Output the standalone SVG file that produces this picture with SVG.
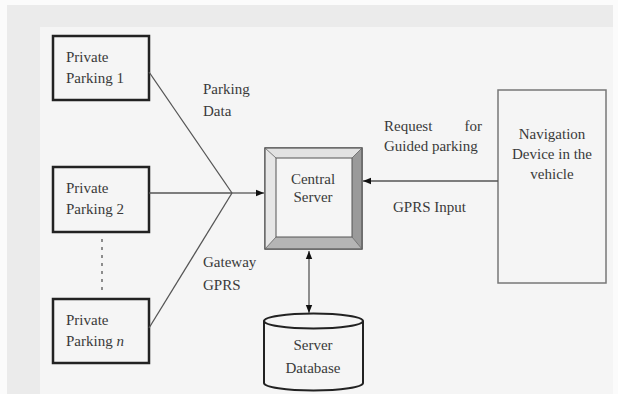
<svg xmlns="http://www.w3.org/2000/svg" width="618" height="394" viewBox="0 0 618 394">
<defs>
<style>
.t{font-family:"Liberation Serif","Times New Roman",serif;font-size:15px;fill:#3a3a3a}
.pp{fill:#f5f5f5;stroke:#222;stroke-width:2.5}
.ln{stroke:#555;stroke-width:1.3;fill:none}
</style>
<marker id="ah" viewBox="0 0 10 10" refX="10" refY="5" markerWidth="8" markerHeight="8" markerUnits="userSpaceOnUse" orient="auto-start-reverse">
<path d="M0,1 L10,5 L0,9 Z" fill="#111"/>
</marker>
</defs>
<rect width="618" height="394" fill="#fbfbfb"/>
<rect x="7" y="5" width="606" height="389" fill="#ebebeb"/>
<rect x="40" y="27" width="573" height="367" fill="#f5f5f5"/>

<g id="pp1">
<rect class="pp" x="53" y="36" width="96" height="64"/>
<text class="t" x="66" y="62">Private</text>
<text class="t" x="66" y="83">Parking 1</text>
</g>
<g id="pp2">
<rect class="pp" x="53" y="167" width="96" height="65"/>
<text class="t" x="66" y="193">Private</text>
<text class="t" x="66" y="214">Parking 2</text>
</g>
<g id="ppn">
<rect class="pp" x="53" y="299" width="96" height="64"/>
<text class="t" x="66" y="325">Private</text>
<text class="t" x="66" y="346">Parking <tspan font-style="italic">n</tspan></text>
</g>

<g id="server">
<rect x="265" y="148" width="97" height="101" fill="#d8d8d8" stroke="#555" stroke-width="1.2"/>
<polygon points="265,148 362,148 352,158 276,158" fill="#e2e2e2"/>
<polygon points="265,148 276,158 276,237 265,249" fill="#e6e6e6"/>
<polygon points="362,148 362,249 352,237 352,158" fill="#9a9a9a"/>
<polygon points="265,249 362,249 352,237 276,237" fill="#b5b5b5"/>
<rect x="265" y="148" width="97" height="101" fill="none" stroke="#555" stroke-width="1.2"/>
<rect x="276" y="158" width="76" height="79" fill="#f5f5f5" stroke="#555" stroke-width="1"/>
<line x1="265" y1="148" x2="276" y2="158" stroke="#666" stroke-width="0.8"/>
<line x1="362" y1="148" x2="352" y2="158" stroke="#666" stroke-width="0.8"/>
<line x1="265" y1="249" x2="276" y2="237" stroke="#666" stroke-width="0.8"/>
<line x1="362" y1="249" x2="352" y2="237" stroke="#666" stroke-width="0.8"/>
<text class="t" x="313" y="184" text-anchor="middle">Central</text>
<text class="t" x="313" y="202" text-anchor="middle">Server</text>
</g>

<g id="db">
<path d="M264,321 L264,383 A49.5,7.5 0 0 0 363,383 L363,321" fill="#f5f5f5" stroke="#222" stroke-width="2"/>
<ellipse cx="313.5" cy="321" rx="49.5" ry="7.5" fill="#f5f5f5" stroke="#222" stroke-width="2"/>
<text class="t" x="313" y="350" text-anchor="middle">Server</text>
<text class="t" x="313" y="373" text-anchor="middle">Database</text>
</g>

<g id="nav">
<rect x="498" y="90" width="108" height="193" fill="#f5f5f5" stroke="#777" stroke-width="1.5"/>
<text class="t" x="552" y="139" text-anchor="middle">Navigation</text>
<text class="t" x="552" y="159" text-anchor="middle">Device in the</text>
<text class="t" x="552" y="179" text-anchor="middle">vehicle</text>
</g>

<g id="connectors">
<line class="ln" x1="149" y1="72" x2="232" y2="193"/>
<line class="ln" x1="149" y1="193" x2="232" y2="193"/>
<line class="ln" x1="149" y1="328" x2="232" y2="193"/>
<line class="ln" x1="232" y1="193" x2="264" y2="193" marker-end="url(#ah)"/>
<line class="ln" x1="498" y1="181" x2="363" y2="181" marker-end="url(#ah)"/>
<line class="ln" x1="309" y1="251" x2="309" y2="313" marker-start="url(#ah)" marker-end="url(#ah)"/>
<line x1="102" y1="239" x2="102" y2="290" stroke="#555" stroke-width="1.3" stroke-dasharray="3,5"/>
</g>

<g id="labels">
<text class="t" x="203" y="94">Parking</text>
<text class="t" x="203" y="116">Data</text>
<text class="t" x="203" y="267">Gateway</text>
<text class="t" x="203" y="290">GPRS</text>
<text class="t" x="384" y="131">Request</text>
<text class="t" x="482" y="131" text-anchor="end">for</text>
<text class="t" x="384" y="151">Guided parking</text>
<text class="t" x="393" y="212">GPRS Input</text>
</g>
</svg>
